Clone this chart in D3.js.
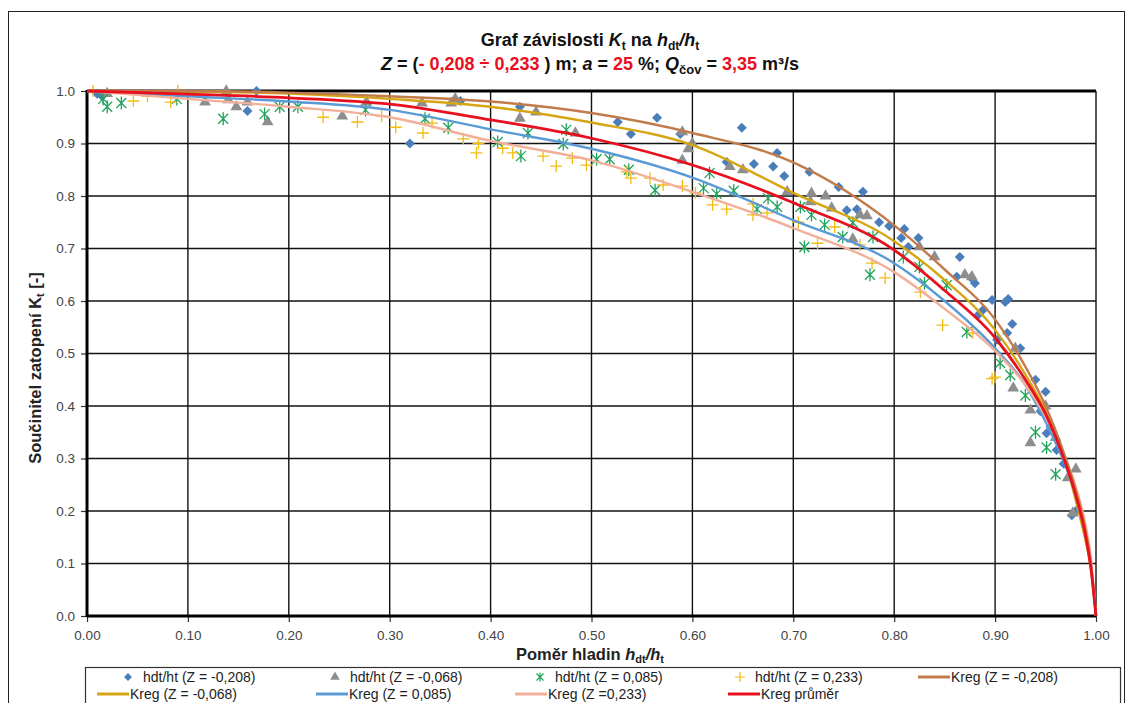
<!DOCTYPE html>
<html>
<head>
<meta charset="utf-8">
<script src="https://cdn.jsdelivr.net/npm/d3@7"></script>
<style>
  body { margin: 0; background: #fff; }
  svg { font-family: Arial, "Liberation Sans", sans-serif; }
</style>
</head>
<body>
<svg id="chart" width="1136" height="703"></svg>
<script>
// measured points hdt/ht -> Kt for each Z
var ptsZm208 = [[0.010,0.995],[0.015,0.990],[0.159,0.962],[0.168,1.000],[0.320,0.900],[0.370,0.981],[0.429,0.970],
  [0.526,0.941],[0.565,0.949],[0.539,0.918],[0.588,0.918],[0.634,0.865],[0.649,0.930],[0.661,0.861],[0.680,0.856],
  [0.684,0.882],[0.691,0.838],[0.716,0.846],[0.745,0.817],[0.769,0.808],[0.753,0.773],[0.763,0.775],[0.785,0.750],
  [0.795,0.743],[0.810,0.737],[0.807,0.720],[0.824,0.720],[0.814,0.703],[0.865,0.684],[0.862,0.646],[0.880,0.634],
  [0.876,0.645],[0.897,0.602],[0.910,0.598],[0.913,0.604],[0.917,0.556],[0.888,0.583],[0.883,0.573],[0.912,0.539],
  [0.902,0.526],[0.925,0.510],[0.950,0.427],[0.940,0.450],[0.945,0.390],[0.951,0.348],[0.955,0.360],[0.961,0.316],
  [0.968,0.290],[0.976,0.192],[0.980,0.200]];
var ptsZm068 = [[0.020,0.995],[0.117,0.979],[0.138,1.000],[0.140,0.983],[0.148,0.970],[0.159,0.979],[0.179,0.941],
  [0.253,0.952],[0.277,0.979],[0.332,0.977],[0.361,0.977],[0.365,0.985],[0.429,0.948],[0.445,0.960],[0.484,0.920],
  [0.590,0.922],[0.600,0.900],[0.590,0.868],[0.596,0.890],[0.637,0.856],[0.650,0.850],[0.694,0.808],[0.718,0.805],
  [0.732,0.800],[0.717,0.789],[0.738,0.777],[0.766,0.764],[0.773,0.762],[0.759,0.718],[0.825,0.703],[0.840,0.684],
  [0.877,0.646],[0.870,0.650],[0.920,0.510],[0.918,0.434],[0.935,0.392],[0.935,0.330],[0.950,0.400],[0.972,0.263],
  [0.977,0.196],[0.980,0.280],[0.960,0.340]];
var ptsZ085 = [[0.016,0.985],[0.020,0.970],[0.034,0.977],[0.089,0.985],[0.135,0.947],[0.176,0.956],[0.191,0.970],
  [0.209,0.970],[0.276,0.964],[0.335,0.947],[0.358,0.930],[0.407,0.903],[0.430,0.876],[0.437,0.920],[0.475,0.926],
  [0.472,0.899],[0.505,0.870],[0.518,0.870],[0.537,0.850],[0.563,0.811],[0.611,0.815],[0.617,0.844],[0.624,0.804],
  [0.641,0.810],[0.664,0.775],[0.675,0.796],[0.684,0.779],[0.707,0.779],[0.711,0.703],[0.718,0.764],[0.731,0.745],
  [0.749,0.722],[0.759,0.749],[0.776,0.650],[0.779,0.722],[0.809,0.684],[0.825,0.665],[0.830,0.634],[0.852,0.630],
  [0.872,0.541],[0.905,0.482],[0.915,0.459],[0.930,0.420],[0.940,0.350],[0.951,0.321],[0.960,0.270]];
var ptsZ233 = [[0.006,1.000],[0.046,0.981],[0.060,0.990],[0.083,0.979],[0.090,1.000],[0.234,0.950],[0.268,0.941],
  [0.292,0.952],[0.306,0.931],[0.333,0.920],[0.342,0.939],[0.373,0.909],[0.388,0.900],[0.386,0.882],[0.412,0.891],
  [0.422,0.882],[0.452,0.876],[0.465,0.857],[0.481,0.872],[0.495,0.859],[0.535,0.846],[0.539,0.834],[0.558,0.834],
  [0.571,0.821],[0.590,0.819],[0.603,0.806],[0.620,0.783],[0.634,0.775],[0.660,0.764],[0.674,0.768],[0.660,0.785],
  [0.705,0.750],[0.724,0.710],[0.741,0.741],[0.766,0.707],[0.778,0.672],[0.791,0.644],[0.826,0.617],[0.848,0.554],
  [0.878,0.539],[0.900,0.455],[0.897,0.452]];

// regression curves
var kregX    = [0, 0.1, 0.2, 0.3, 0.4, 0.5, 0.6, 0.7, 0.8, 0.85, 0.9, 0.93, 0.95, 0.97, 0.98, 0.99, 0.995, 1.0];
var kregZm208 = [1, 1.000, 0.997, 0.990, 0.980, 0.958, 0.920, 0.864, 0.744, 0.660, 0.565, 0.475, 0.400, 0.300, 0.240, 0.160, 0.100, 0];
var kregZm068 = [1, 0.999, 0.995, 0.985, 0.970, 0.940, 0.897, 0.806, 0.714, 0.640, 0.545, 0.460, 0.390, 0.290, 0.220, 0.140, 0.090, 0];
var kregZ085  = [1, 0.990, 0.980, 0.964, 0.927, 0.890, 0.835, 0.754, 0.672, 0.600, 0.510, 0.440, 0.370, 0.285, 0.230, 0.150, 0.095, 0];
var kregZ233  = [1, 0.985, 0.970, 0.950, 0.905, 0.868, 0.808, 0.739, 0.655, 0.585, 0.505, 0.440, 0.380, 0.300, 0.245, 0.170, 0.110, 0];
var kregAvg   = [1, 0.994, 0.987, 0.975, 0.945, 0.910, 0.859, 0.787, 0.697, 0.620, 0.530, 0.450, 0.385, 0.290, 0.230, 0.150, 0.090, 0];

var xTicks = [0, 0.1, 0.2, 0.3, 0.4, 0.5, 0.6, 0.7, 0.8, 0.9, 1.0];
var yTicks = [0, 0.1, 0.2, 0.3, 0.4, 0.5, 0.6, 0.7, 0.8, 0.9, 1.0];

var svg = d3.select('#chart');
svg.append('rect').attr('width', 1136).attr('height', 703).attr('fill', '#fff');
// outer frame of the chart object
svg.append('rect').attr('x', 8.5).attr('y', 11.5).attr('width', 1116).attr('height', 720)
  .attr('fill', 'none').attr('stroke', '#222').attr('stroke-width', 1);

var plotL = 87, plotR = 1096, plotT = 91, plotB = 616;
var x = d3.scaleLinear().domain([0, 1]).range([plotL, plotR]);
var y = d3.scaleLinear().domain([0, 1]).range([plotB, plotT]);

// grid
var g = svg.append('g');
g.selectAll('line.vg').data(xTicks.slice(1)).enter().append('line')
  .attr('x1', function(d){ return x(d); }).attr('x2', function(d){ return x(d); })
  .attr('y1', plotT).attr('y2', plotB)
  .attr('stroke', '#111').attr('stroke-width', 1.4);
g.selectAll('line.hg').data(yTicks.slice(1)).enter().append('line')
  .attr('x1', plotL).attr('x2', plotR)
  .attr('y1', function(d){ return y(d); }).attr('y2', function(d){ return y(d); })
  .attr('stroke', '#111').attr('stroke-width', 1.4);

// axes
var yAxis = d3.axisLeft(y).tickValues(yTicks).tickSize(6).tickPadding(6)
  .tickFormat(d3.format('.1f'));
var xAxis = d3.axisBottom(x).tickValues(xTicks).tickSize(6).tickPadding(8)
  .tickFormat(d3.format('.2f'));
var ya = svg.append('g').attr('transform', 'translate(' + plotL + ',0)').call(yAxis);
var xa = svg.append('g').attr('transform', 'translate(0,' + plotB + ')').call(xAxis);
[ya, xa].forEach(function(a){
  a.select('.domain').remove();
  a.selectAll('line').attr('stroke', '#333').attr('stroke-width', 1.2);
  a.selectAll('text').attr('font-size', 13.5).attr('fill', '#444')
    .attr('font-family', 'Arial, "Liberation Sans", sans-serif');
});

// heavy frame lines
svg.append('line').attr('x1', plotL).attr('x2', plotL).attr('y1', plotT - 1).attr('y2', plotB + 1)
  .attr('stroke', '#000').attr('stroke-width', 3);
svg.append('line').attr('x1', plotL).attr('x2', plotR).attr('y1', plotB).attr('y2', plotB)
  .attr('stroke', '#000').attr('stroke-width', 3);
svg.append('line').attr('x1', plotL).attr('x2', plotR).attr('y1', plotT).attr('y2', plotT)
  .attr('stroke', '#000').attr('stroke-width', 3);

// marker shapes
function diamond(s){ return 'M0,' + (-s) + 'L' + s + ',0L0,' + s + 'L' + (-s) + ',0Z'; }
var triangle = d3.symbol().type(d3.symbolTriangle).size(60);
function asterisk(s){ return 'M' + (-s) + ',' + (-s) + 'L' + s + ',' + s + 'M' + (-s) + ',' + s + 'L' + s + ',' + (-s) + 'M0,' + (-s * 1.3) + 'L0,' + (s * 1.3); }
function plus(s){ return 'M' + (-s) + ',0L' + s + ',0M0,' + (-s) + 'L0,' + s; }

var colBlue = '#4A7EBB', colGray = '#8E8E8E', colGreen = '#20A35A', colYellow = '#F3BC10';

var plot = svg.append('g');
plot.selectAll('path.s1').data(ptsZm208).enter().append('path')
  .attr('d', diamond(5)).attr('fill', colBlue)
  .attr('transform', function(d){ return 'translate(' + x(d[0]) + ',' + y(d[1]) + ')'; });
plot.selectAll('path.s2').data(ptsZm068).enter().append('path')
  .attr('d', triangle).attr('fill', colGray)
  .attr('transform', function(d){ return 'translate(' + x(d[0]) + ',' + y(d[1]) + ')'; });
plot.selectAll('path.s3').data(ptsZ085).enter().append('path')
  .attr('d', asterisk(5)).attr('fill', 'none').attr('stroke', colGreen).attr('stroke-width', 1.3)
  .attr('transform', function(d){ return 'translate(' + x(d[0]) + ',' + y(d[1]) + ')'; });
plot.selectAll('path.s4').data(ptsZ233).enter().append('path')
  .attr('d', plus(6)).attr('fill', 'none').attr('stroke', colYellow).attr('stroke-width', 1.3)
  .attr('transform', function(d){ return 'translate(' + x(d[0]) + ',' + y(d[1]) + ')'; });

// regression lines
var curves = [
  {vals: kregZm068, color: '#D6A514', w: 2.4},
  {vals: kregZ085,  color: '#5B9BD5', w: 2.4},
  {vals: kregZ233,  color: '#F2B09A', w: 2.4},
  {vals: kregZm208, color: '#C27B4A', w: 2.4},
  {vals: kregAvg,   color: '#E8101E', w: 2.8}
];
var line = d3.line()
  .x(function(d){ return x(d[0]); })
  .y(function(d){ return y(d[1]); })
  .curve(d3.curveMonotoneX);
curves.forEach(function(c){
  var data = kregX.map(function(v, i){ return [v, c.vals[i]]; });
  plot.append('path').datum(data).attr('d', line)
    .attr('fill', 'none').attr('stroke', c.color).attr('stroke-width', c.w);
});

// titles
var t1 = svg.append('text').attr('x', 590).attr('y', 46).attr('text-anchor', 'middle')
  .attr('font-size', 18).attr('font-weight', 'bold').attr('fill', '#111');
t1.append('tspan').text('Graf závislosti ');
t1.append('tspan').attr('font-style', 'italic').text('K');
t1.append('tspan').attr('font-size', 12).attr('dy', 4).text('t');
t1.append('tspan').attr('dy', -4).text(' na ');
t1.append('tspan').attr('font-style', 'italic').text('h');
t1.append('tspan').attr('font-size', 12).attr('dy', 4).text('dt');
t1.append('tspan').attr('dy', -4).attr('font-style', 'italic').text('/h');
t1.append('tspan').attr('font-size', 12).attr('dy', 4).text('t');

var t2 = svg.append('text').attr('x', 590).attr('y', 70).attr('text-anchor', 'middle')
  .attr('font-size', 18).attr('font-weight', 'bold').attr('fill', '#111');
t2.append('tspan').attr('font-style', 'italic').text('Z');
t2.append('tspan').text(' = (');
t2.append('tspan').attr('fill', '#E8101E').text('- 0,208 ÷ 0,233');
t2.append('tspan').text(' ) m; ');
t2.append('tspan').attr('font-style', 'italic').text('a');
t2.append('tspan').text(' = ');
t2.append('tspan').attr('fill', '#E8101E').text('25');
t2.append('tspan').text(' %; ');
t2.append('tspan').attr('font-style', 'italic').text('Q');
t2.append('tspan').attr('font-size', 13).attr('dy', 4).text('čov');
t2.append('tspan').attr('dy', -4).text(' = ');
t2.append('tspan').attr('fill', '#E8101E').text('3,35');
t2.append('tspan').text(' m³/s');

var yt = svg.append('text').attr('transform', 'translate(41,368) rotate(-90)')
  .attr('text-anchor', 'middle').attr('font-size', 16.5).attr('font-weight', 'bold').attr('fill', '#222');
yt.append('tspan').text('Součinitel zatopení K');
yt.append('tspan').attr('font-size', 11).attr('dy', 3).text('t');
yt.append('tspan').attr('dy', -3).text(' [-]');

var xt = svg.append('text').attr('x', 590).attr('y', 660).attr('text-anchor', 'middle')
  .attr('font-size', 16.5).attr('font-weight', 'bold').attr('fill', '#222');
xt.append('tspan').text('Poměr hladin ');
xt.append('tspan').attr('font-style', 'italic').text('h');
xt.append('tspan').attr('font-size', 11).attr('dy', 3).text('dt');
xt.append('tspan').attr('dy', -3).attr('font-style', 'italic').text('/h');
xt.append('tspan').attr('font-size', 11).attr('dy', 3).text('t');

// legend
svg.append('rect').attr('x', 85.5).attr('y', 667.5).attr('width', 1035).attr('height', 60)
  .attr('fill', '#fff').attr('stroke', '#333').attr('stroke-width', 1.2);
var legendItems = [
  {kind: 'diamond', label: 'hdt/ht (Z = -0,208)', x: 128, y: 677, color: colBlue},
  {kind: 'triangle', label: 'hdt/ht (Z = -0,068)', x: 335, y: 677, color: colGray},
  {kind: 'asterisk', label: 'hdt/ht (Z = 0,085)', x: 540, y: 677, color: colGreen},
  {kind: 'plus', label: 'hdt/ht (Z = 0,233)', x: 740, y: 677, color: colYellow},
  {kind: 'line', label: 'Kreg (Z = -0,208)', x: 934, y: 677, color: '#C27B4A'},
  {kind: 'line', label: 'Kreg (Z = -0,068)', x: 113, y: 694, color: '#D6A514'},
  {kind: 'line', label: 'Kreg (Z = 0,085)', x: 332, y: 694, color: '#5B9BD5'},
  {kind: 'line', label: 'Kreg (Z =0,233)', x: 531, y: 694, color: '#F2B09A'},
  {kind: 'line', label: 'Kreg  průměr', x: 744, y: 694, color: '#E8101E'}
];
var leg = svg.append('g');
legendItems.forEach(function(it){
  var gi = leg.append('g').attr('transform', 'translate(' + it.x + ',' + it.y + ')');
  if (it.kind === 'diamond') gi.append('path').attr('d', diamond(4)).attr('fill', it.color);
  if (it.kind === 'triangle') gi.append('path').attr('d', d3.symbol().type(d3.symbolTriangle).size(40)).attr('fill', it.color);
  if (it.kind === 'asterisk') gi.append('path').attr('d', asterisk(3.5)).attr('fill', 'none').attr('stroke', it.color).attr('stroke-width', 1.2);
  if (it.kind === 'plus') gi.append('path').attr('d', plus(5)).attr('fill', 'none').attr('stroke', it.color).attr('stroke-width', 1.2);
  if (it.kind === 'line') gi.append('line').attr('x1', -16).attr('x2', 16).attr('stroke', it.color).attr('stroke-width', 3);
  gi.append('text').attr('x', it.kind === 'line' ? 17 : 15).attr('y', 5)
    .attr('font-size', 14).attr('fill', '#222').text(it.label);
});
</script>
</body>
</html>
